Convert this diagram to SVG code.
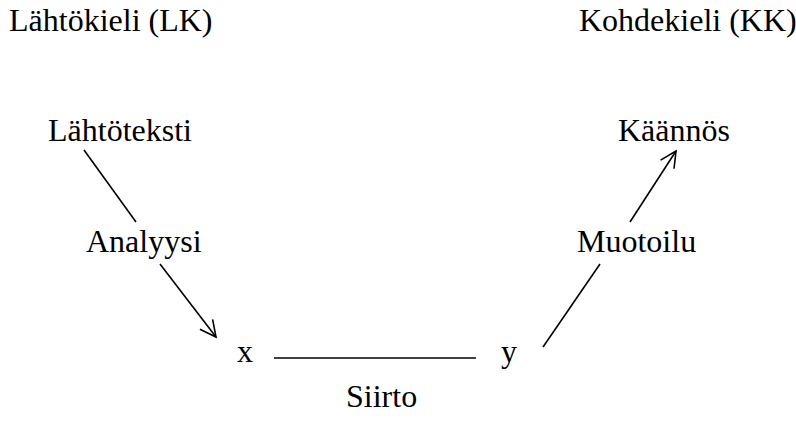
<svg xmlns="http://www.w3.org/2000/svg" width="796" height="421" viewBox="0 0 796 421">
<style>
text { font-family: "Liberation Serif", "Times New Roman", serif; font-size: 32px; fill: #000; }
.c { stroke: #000; stroke-width: 1.6; fill: none; }
</style>
<defs>
<marker id="ah" markerUnits="userSpaceOnUse" markerWidth="40" markerHeight="40" viewBox="-20 -20 40 40" refX="0" refY="0" orient="auto">
<path d="M-16,-8 L0,0 L-16,8" fill="none" stroke="#000" stroke-width="1.6"/>
</marker>
</defs>
<rect width="796" height="421" fill="#fff"/>
<g id="lk"><text x="9" y="31">Lähtökieli (LK)</text></g>
<g id="kk"><text x="579" y="31">Kohdekieli (KK)</text></g>
<g id="lahtoteksti"><text x="48" y="141">Lähtöteksti</text></g>
<g id="kaannos"><text x="618" y="141">Käännös</text></g>
<g id="analyysi"><text x="86" y="252">Analyysi</text></g>
<g id="muotoilu"><text x="577" y="252">Muotoilu</text></g>
<g id="x"><text x="237" y="362">x</text></g>
<g id="y"><text x="501" y="362">y</text></g>
<g id="siirto"><text x="346" y="407">Siirto</text></g>
<g id="connectors">
<line class="c" x1="84" y1="150" x2="136" y2="222"/>
<line class="c" x1="160" y1="264" x2="216" y2="337" marker-end="url(#ah)"/>
<line class="c" x1="274" y1="358" x2="476" y2="358"/>
<line class="c" x1="543" y1="347" x2="600" y2="264"/>
<line class="c" x1="630" y1="222" x2="676" y2="151" marker-end="url(#ah)"/>
</g>
</svg>
